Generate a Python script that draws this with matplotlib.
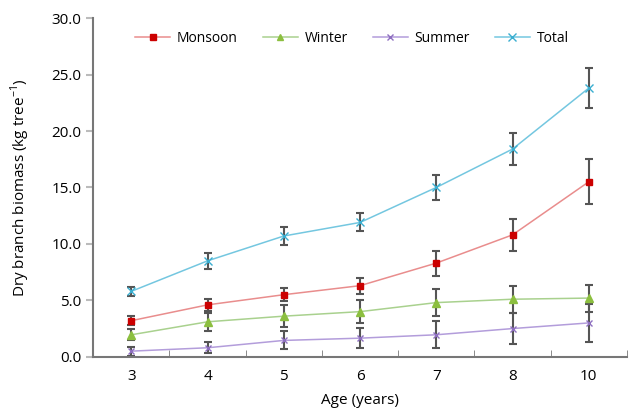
import matplotlib
matplotlib.use("Agg")
import matplotlib.pyplot as plt
import numpy as np

ages = ["3", "4", "5", "6", "7", "8", "10"]
monsoon = [3.2, 4.6, 5.5, 6.3, 8.3, 10.8, 15.5]
monsoon_err = [0.4, 0.5, 0.6, 0.7, 1.1, 1.4, 2.0]
winter = [1.95, 3.1, 3.6, 4.0, 4.8, 5.1, 5.2]
winter_err = [0.5, 0.8, 1.0, 1.0, 1.2, 1.2, 1.2]
summer = [0.5, 0.8, 1.45, 1.65, 1.95, 2.5, 3.0]
summer_err = [0.4, 0.5, 0.8, 0.9, 1.2, 1.4, 1.7]
total = [5.8, 8.5, 10.7, 11.9, 15.0, 18.4, 23.8]
total_err = [0.4, 0.7, 0.8, 0.8, 1.1, 1.4, 1.8]

plt.rcParams['font.family'] = ['Open Sans', 'DejaVu Sans']

fig = plt.figure(figsize=(6.3, 4.12), dpi=100)
ax = fig.add_axes([0.148, 0.134, 0.847, 0.822])

x = np.arange(len(ages))
series = [
    ("Monsoon", monsoon, monsoon_err, "#e98d8d", "#cc0000", "s", 5),
    ("Winter", winter, winter_err, "#a9d18e", "#8cbf3f", "^", 5.5),
    ("Summer", summer, summer_err, "#b39ddb", "#8e6fc0", "x", 5),
    ("Total", total, total_err, "#74c7e0", "#3aaed0", "x", 6),
]
for name, vals, err, lc, mc, mk, ms in series:
    ax.errorbar(x, vals, yerr=err, fmt='none', ecolor='#555555', elinewidth=1.5,
                capsize=3, capthick=1.5, zorder=2)
    ax.plot(x, vals, color=lc, lw=1.1, marker=mk, markersize=ms,
            markerfacecolor=mc, markeredgecolor=mc, markeredgewidth=1.0,
            label=name, zorder=3)

ax.set_xlim(-0.5, 6.5)
ax.set_ylim(0, 30)
ax.set_yticks(np.arange(0, 30.1, 5))
ax.set_yticklabels([f"{v:.1f}" for v in np.arange(0, 30.1, 5)], fontsize=11)
ax.set_xticks(x)
ax.set_xticklabels(ages, fontsize=11)
ax.set_xticks(np.arange(-0.5, 6.6, 1), minor=True)
ax.tick_params(axis='x', which='major', length=0, pad=9)
ax.tick_params(axis='x', which='minor', length=5, color='#777777', direction='in')
ax.tick_params(axis='y', length=5, color='#bbbbbb', width=1.5)
for s in ['top', 'right']:
    ax.spines[s].set_visible(False)
for s in ['left', 'bottom']:
    ax.spines[s].set_color('#777777')
    ax.spines[s].set_linewidth(1.5)

ax.set_ylabel("Dry branch biomass (kg tree$^{\\mathregular{-1}}$)", fontsize=11, labelpad=14)
ax.set_xlabel("Age (years)", fontsize=11, labelpad=6)

ax.legend(loc='upper center', bbox_to_anchor=(0.485, 1.0), ncol=4, frameon=False,
          fontsize=10, handlelength=2.5, columnspacing=1.8, handletextpad=0.5,
          markerscale=0.9)

fig.savefig("out.png", dpi=100)
